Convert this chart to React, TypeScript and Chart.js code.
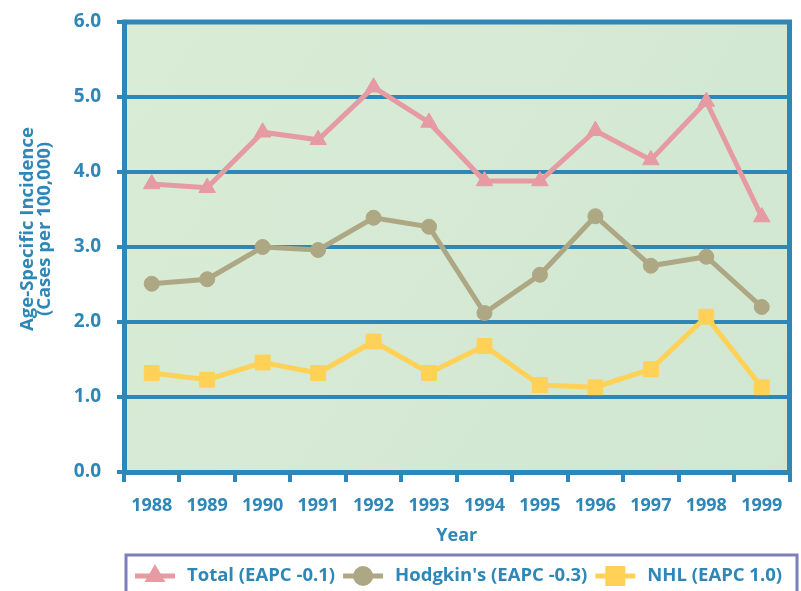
import React, { useEffect, useRef } from "react";
import { Chart, registerables } from "chart.js";

Chart.register(...registerables);

const years = ["1988", "1989", "1990", "1991", "1992", "1993", "1994", "1995", "1996", "1997", "1998", "1999"];
const totalValues = [3.84, 3.79, 4.53, 4.43, 5.13, 4.66, 3.88, 3.88, 4.55, 4.16, 4.94, 3.4];
const hodgkinValues = [2.51, 2.57, 3.0, 2.96, 3.39, 3.27, 2.12, 2.63, 3.41, 2.75, 2.87, 2.2];
const nhlValues = [1.32, 1.23, 1.46, 1.32, 1.74, 1.32, 1.68, 1.16, 1.13, 1.37, 2.07, 1.13];
const yTickValues = [0, 1, 2, 3, 4, 5, 6];
const seriesLabels = ["Total (EAPC -0.1)", "Hodgkin's (EAPC -0.3)", "NHL (EAPC 1.0)"];
const yTitleLines = ["Age-Specific Incidence", "(Cases per 100,000)"];
const xTitleText = "Year";

const BLUE = "#2e87b6";
const PINK = "#e69aa2";
const KHAKI = "#aea784";
const YELLOW = "#ffd257";
const LEGEND_BORDER = "#7c7fb8";
const FONT = '"Open Sans", "DejaVu Sans", sans-serif';

const seriesColors = [PINK, KHAKI, YELLOW];
const seriesStyles = ["triangle", "circle", "rect"];

const bgPlugin = {
  id: "bgPlugin",
  beforeDraw(chart: any) {
    const { ctx, chartArea } = chart;
    const { left, top, right, bottom } = chartArea;
    ctx.save();
    const g = ctx.createLinearGradient(left, top, right, bottom);
    g.addColorStop(0, "#d9ecd5");
    g.addColorStop(0.5, "#d5e9d4");
    g.addColorStop(1, "#d0e7d1");
    ctx.fillStyle = g;
    ctx.fillRect(left, top, right - left, bottom - top);
    ctx.restore();
  },
};

const framePlugin = {
  id: "framePlugin",
  beforeDatasetsDraw(chart: any) {
    const { ctx, chartArea } = chart;
    const { left, top, right, bottom } = chartArea;
    ctx.save();
    ctx.strokeStyle = BLUE;
    ctx.lineWidth = 5;
    ctx.beginPath();
    ctx.moveTo(left - 2, top);
    ctx.lineTo(right, top);
    ctx.moveTo(right, top - 2.5);
    ctx.lineTo(right, bottom + 2.5);
    ctx.stroke();
    ctx.restore();
  },
};

const yTitlePlugin = {
  id: "yTitlePlugin",
  afterDraw(chart: any) {
    const { ctx } = chart;
    ctx.save();
    ctx.fillStyle = BLUE;
    ctx.font = `bold 18.5px ${FONT}`;
    ctx.textAlign = "center";
    ctx.textBaseline = "middle";
    const cx = [28, 45];
    yTitleLines.forEach((line, i) => {
      ctx.save();
      ctx.translate(cx[i], 229);
      ctx.rotate(-Math.PI / 2);
      ctx.fillText(line, 0, 0);
      ctx.restore();
    });
    ctx.restore();
  },
};

function drawMarker(ctx: any, style: string, x: number, y: number, color: string) {
  ctx.fillStyle = color;
  ctx.beginPath();
  if (style === "triangle") {
    const r = 12;
    ctx.moveTo(x, y - r);
    ctx.lineTo(x + r * 0.866, y + r / 2);
    ctx.lineTo(x - r * 0.866, y + r / 2);
    ctx.closePath();
  } else if (style === "circle") {
    ctx.arc(x, y, 10, 0, Math.PI * 2);
  } else {
    ctx.rect(x - 10, y - 10, 20, 20);
  }
  ctx.fill();
}

const legendPlugin = {
  id: "customLegend",
  afterDraw(chart: any) {
    const { ctx } = chart;
    ctx.save();
    ctx.strokeStyle = LEGEND_BORDER;
    ctx.lineWidth = 3;
    ctx.strokeRect(126, 555, 671, 50);
    ctx.font = `bold 18.5px ${FONT}`;
    ctx.textBaseline = "middle";
    ctx.textAlign = "left";
    const y = 576;
    let x = 135;
    chart.data.datasets.forEach((ds: any, i: number) => {
      const color = seriesColors[i];
      ctx.strokeStyle = color;
      ctx.lineWidth = 5;
      ctx.beginPath();
      ctx.moveTo(x, y);
      ctx.lineTo(x + 40, y);
      ctx.stroke();
      drawMarker(ctx, seriesStyles[i], x + 20, y, color);
      x += 52;
      ctx.fillStyle = BLUE;
      ctx.fillText(ds.label, x, y);
      x += ctx.measureText(ds.label).width + 8;
    });
    ctx.restore();
  },
};

export default function App() {
  const canvasRef = useRef<HTMLCanvasElement | null>(null);

  useEffect(() => {
    document.body.style.margin = "0";
    const canvas = canvasRef.current;
    if (!canvas) return;
    const chart = new Chart(canvas, {
      type: "line",
      data: {
        labels: years,
        datasets: [
          {
            label: seriesLabels[0],
            data: totalValues,
            borderColor: PINK,
            backgroundColor: PINK,
            borderWidth: 5,
            pointStyle: "triangle",
            pointRadius: 9.5,
            pointBorderWidth: 1,
            pointBorderColor: PINK,
            pointBackgroundColor: PINK,
            tension: 0,
          },
          {
            label: seriesLabels[1],
            data: hodgkinValues,
            borderColor: KHAKI,
            backgroundColor: KHAKI,
            borderWidth: 5,
            pointStyle: "circle",
            pointRadius: 7.5,
            pointBorderWidth: 1,
            pointBorderColor: KHAKI,
            pointBackgroundColor: KHAKI,
            tension: 0,
          },
          {
            label: seriesLabels[2],
            data: nhlValues,
            borderColor: YELLOW,
            backgroundColor: YELLOW,
            borderWidth: 5,
            pointStyle: "rect",
            pointRadius: 10.5,
            pointBorderWidth: 1,
            pointBorderColor: YELLOW,
            pointBackgroundColor: YELLOW,
            tension: 0,
          },
        ],
      },
      options: {
        animation: false,
        responsive: true,
        maintainAspectRatio: false,
        layout: { padding: { top: 22, right: 5, left: 0, bottom: 0 } },
        plugins: {
          legend: { display: false },
          tooltip: { enabled: false },
        },
        scales: {
          x: {
            type: "category",
            offset: true,
            afterFit(scale: any) {
              scale.height = 119;
              scale.paddingLeft = 0;
              scale.paddingRight = 0;
            },
            grid: {
              drawOnChartArea: false,
              offset: true,
              color: BLUE,
              lineWidth: 4,
              tickLength: 10,
            },
            border: { display: true, color: BLUE, width: 5 },
            ticks: {
              color: BLUE,
              font: { family: FONT, size: 18, weight: "bold" },
              padding: 13,
              maxRotation: 0,
              autoSkip: false,
            },
            title: {
              display: true,
              text: xTitleText,
              color: BLUE,
              font: { family: FONT, size: 18, weight: "bold" },
              padding: { top: 0, bottom: 44 },
            },
          },
          y: {
            min: 0,
            max: 6,
            afterFit(scale: any) {
              scale.width = 124;
              scale.paddingTop = 0;
              scale.paddingBottom = 0;
            },
            afterBuildTicks(scale: any) {
              scale.ticks = yTickValues.map((v) => ({ value: v }));
            },
            grid: {
              color: BLUE,
              lineWidth: 4,
              tickLength: 7,
            },
            border: { display: true, color: BLUE, width: 5 },
            ticks: {
              color: BLUE,
              font: { family: FONT, size: 19, weight: "bold" },
              padding: 16,
              callback: (v: any) => Number(v).toFixed(1),
            },
          },
        },
      },
      plugins: [bgPlugin, framePlugin, yTitlePlugin, legendPlugin],
    });
    return () => chart.destroy();
  }, []);

  return (
    <div style={{ width: 801, height: 591, position: "relative" }}>
      <canvas ref={canvasRef} />
    </div>
  );
}
